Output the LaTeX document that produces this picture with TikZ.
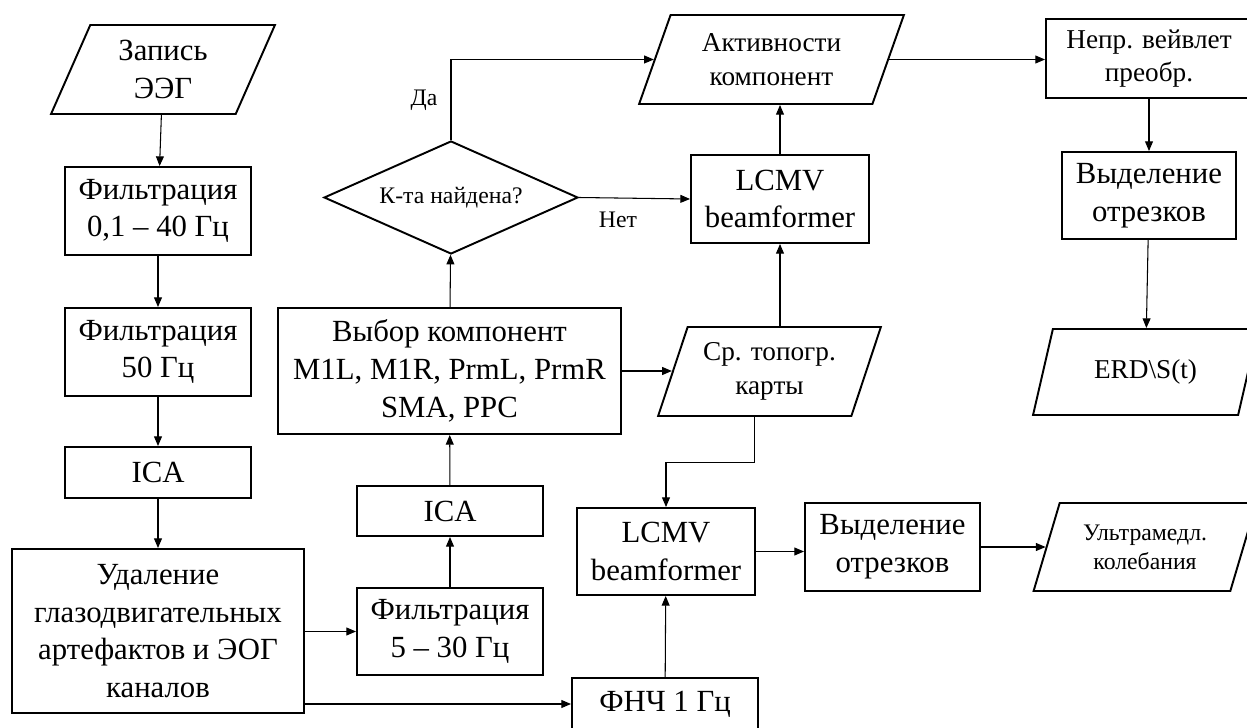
\documentclass[tikz,border=0pt]{standalone}
\usepackage{fontspec}
\setmainfont{Liberation Serif}
\usetikzlibrary{arrows.meta,shapes.geometric}

\begin{document}
\begin{tikzpicture}[
    block/.style={draw, line width=1.1pt, minimum width=3.72cm, minimum height=1.76cm, align=center, inner sep=1pt, font=\fontsize{17.5}{21.5}\selectfont},
    data/.style={draw, line width=1.1pt, trapezium, trapezium stretches=true, trapezium left angle=68, trapezium right angle=112, minimum width=4.48cm, minimum height=1.78cm, align=center, inner sep=1pt, font=\fontsize{15.5}{19}\selectfont},
    decision/.style={draw, line width=1.1pt, diamond, aspect=2.25, minimum width=5.08cm, minimum height=2.26cm, inner sep=0pt, font=\fontsize{13.5}{16}\selectfont},
    arrow/.style={-{Triangle[length=5.5pt, width=4.5pt]}, line width=0.6pt},
    answer/.style={font=\fontsize{13.5}{16}\selectfont}
]
\useasboundingbox (0,0) rectangle (24.94,14.54);
\clip (0,0) rectangle (24.94,14.54);

% Preprocessing column
\node[data, font=\fontsize{17.5}{21.5}\selectfont] (rec) at (3.26,13.15) {Запись\\ЭЭГ};
\node[block] (filtwide) at (3.16,10.32) {Фильтрация\\0,1 – 40 Гц};
\node[block] (filtnotch) at (3.16,7.50) {Фильтрация\\50 Гц};
\node[block, minimum height=1.02cm] (ica) at (3.16,5.09) {ICA};
\node[block, minimum width=5.84cm, minimum height=3.28cm] (clean) at (3.16,1.92) {Удаление\\глазодвигательных\\артефактов и ЭОГ\\каналов};

% Component search
\node[block, minimum height=1.74cm] (filtband) at (9.00,1.91) {Фильтрация\\5 – 30 Гц};
\node[block, minimum height=1.00cm] (icatwo) at (9.00,4.32) {ICA};
\node[block, minimum width=6.86cm, minimum height=2.52cm] (pick) at (8.99,7.12) {Выбор компонент\\M1L, M1R, PrmL, PrmR\\SMA, PPC};
\node[decision] (found) at (9.02,10.59) {К-та найдена?};
\node[answer] (yes) at (8.48,12.54) {Да};
\node[answer] (no) at (12.36,10.14) {Нет};

% Source reconstruction
\node[data, minimum width=5.30cm] (act) at (15.43,13.35) {Активности\\компонент};
\node[block, minimum width=3.56cm] (lcmvtop) at (15.60,10.56) {LCMV\\beamformer};
\node[data, minimum width=4.46cm] (topo) at (15.39,7.11) {Ср. топогр.\\карты};
\node[block, minimum width=3.56cm, minimum height=1.74cm] (lcmvbot) at (13.32,3.51) {LCMV\\beamformer};
\node[block, minimum height=1.04cm] (lowpass) at (13.30,0.46) {ФНЧ 1 Гц};
\node[block, minimum width=3.50cm] (segbot) at (17.85,3.60) {Выделение\\отрезков};

% Outputs
\node[block, minimum width=4.12cm, minimum height=1.58cm, font=\fontsize{15.5}{19}\selectfont] (wavelet) at (22.98,13.37) {Непр. вейвлет\\преобр.};
\node[block, minimum width=3.48cm, minimum height=1.74cm] (segtop) at (22.98,10.63) {Выделение\\отрезков};
\node[data, minimum width=4.50cm, minimum height=1.72cm] (erd) at (22.91,7.10) {ERD\textbackslash S(t)};
\node[data, minimum height=1.76cm, font=\fontsize{13.5}{16.5}\selectfont] (slow) at (22.90,3.60) {Ультрамедл.\\колебания};

% Arrows
\draw[arrow] (rec) -- (filtwide);
\draw[arrow] (filtwide) -- (filtnotch);
\draw[arrow] (filtnotch) -- (ica);
\draw[arrow] (ica) -- (clean);
\draw[arrow] (clean.east |- filtband.west) -- (filtband.west);
\draw[arrow] (clean.east |- lowpass.west) -- (lowpass.west);
\draw[arrow] (filtband) -- (icatwo);
\draw[arrow] (icatwo) -- (pick);
\draw[arrow] (pick) -- (found);
\draw[arrow] (pick.east) -- (pick.east -| topo.left side);
\draw[arrow] (found.north) |- (act.left side);
\draw[arrow] (found.east) -- (lcmvtop.west);
\draw[arrow] (topo.top side -| lcmvtop) -- (lcmvtop.south);
\draw[arrow] (lcmvtop.north) -- (lcmvtop.north |- act.bottom side);
\draw[arrow] (act.right side) -- (act.right side -| wavelet.west);
\draw[arrow] (wavelet) -- (segtop);
\draw[arrow] (segtop) -- (erd);
\draw[arrow] (topo.bottom side) -- ++(0,-0.92) -| (lcmvbot.north);
\draw[arrow] (lowpass) -- (lcmvbot);
\draw[arrow] (lcmvbot.east) -- (lcmvbot.east -| segbot.west);
\draw[arrow] (segbot.east) -- (segbot.east -| slow.left side);
\end{tikzpicture}
\end{document}
